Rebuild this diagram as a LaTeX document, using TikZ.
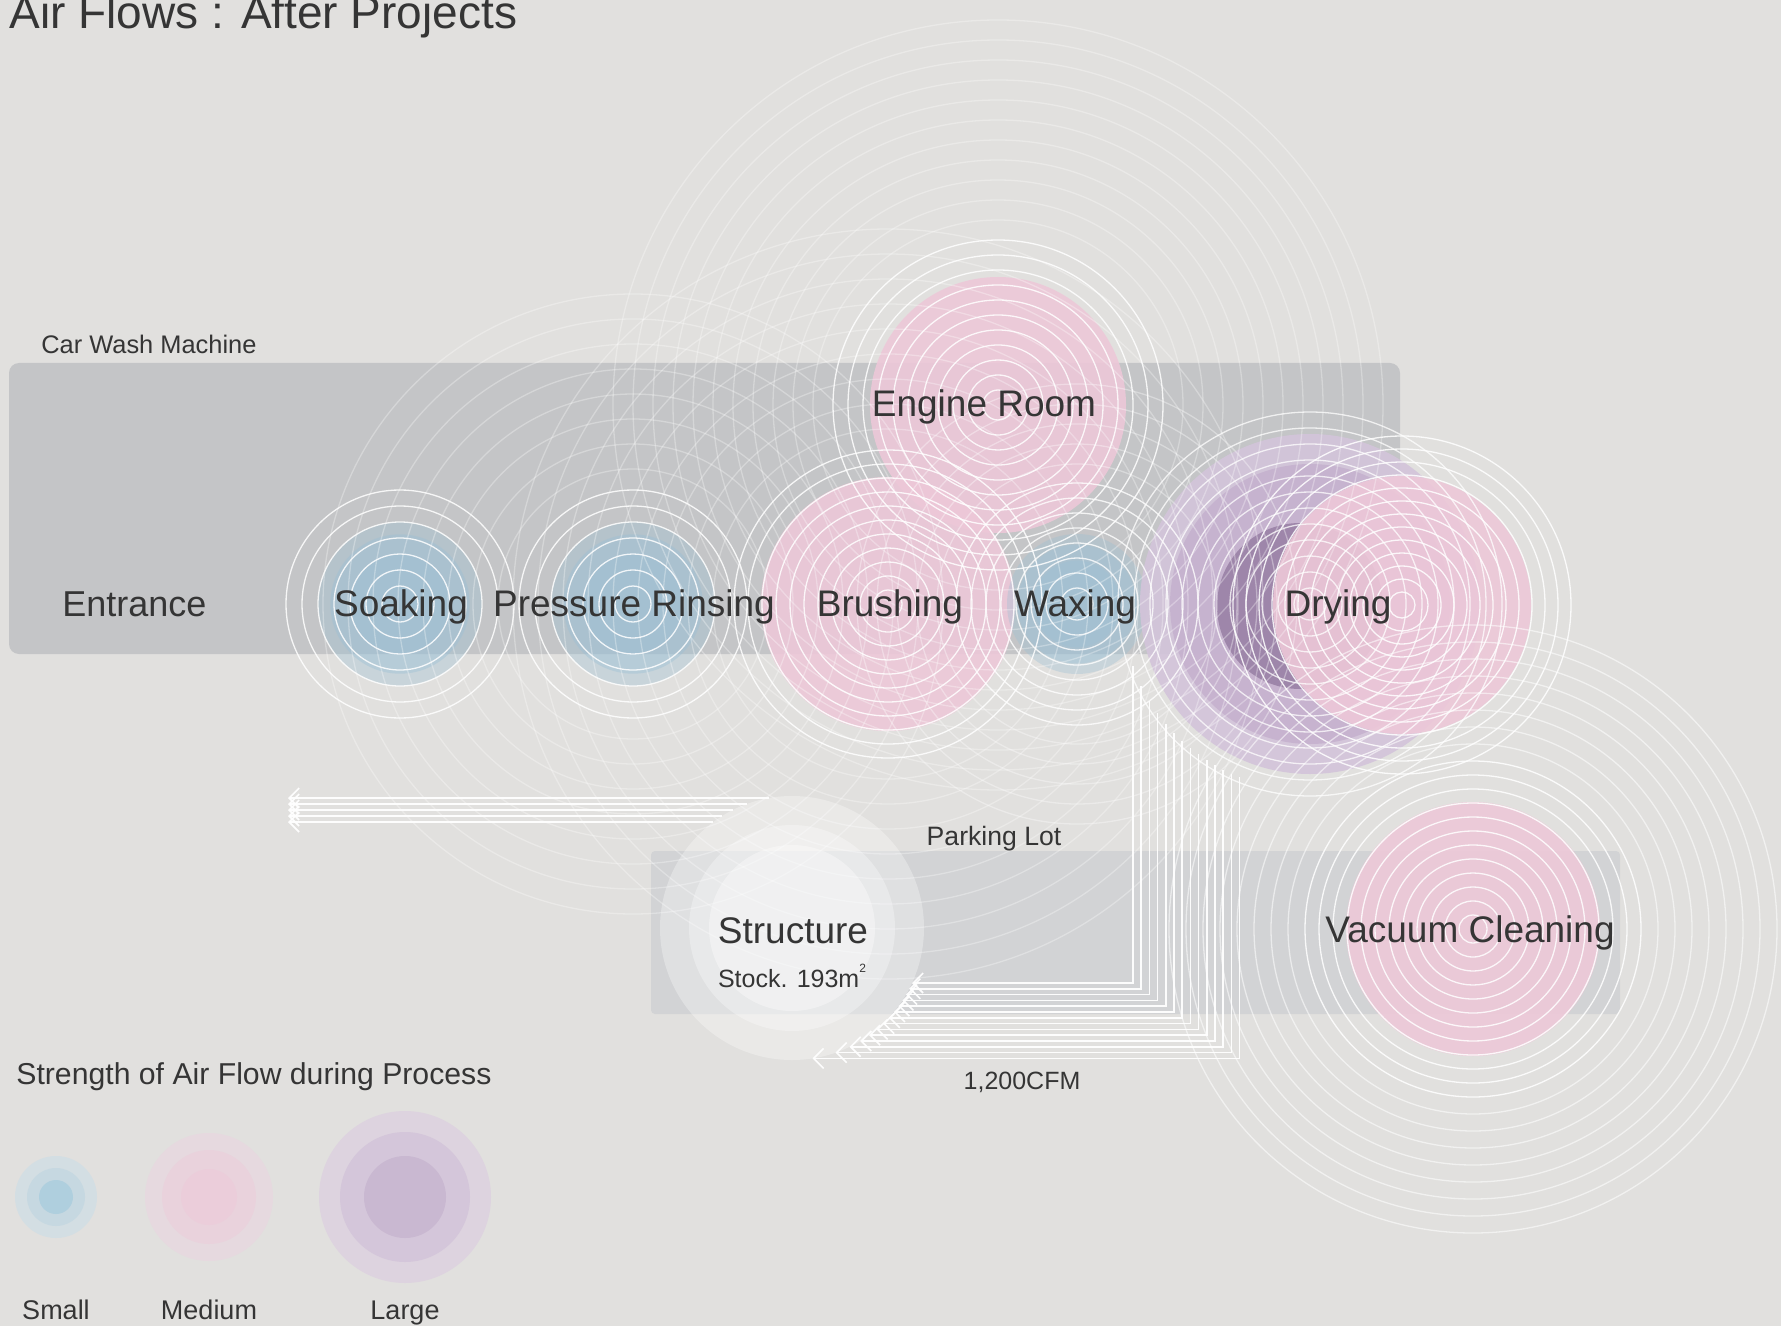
\documentclass[tikz,border=0pt]{standalone}
\usepackage{fontspec}
\setmainfont{Liberation Sans}
\usetikzlibrary{arrows.meta,calc}
\definecolor{bgc}{HTML}{E1E0DE}
\definecolor{barA}{HTML}{C4C5C7}
\definecolor{barB}{HTML}{D2D3D5}
\definecolor{txt}{HTML}{353535}
\definecolor{blueF}{HTML}{9BC0D5}
\definecolor{pinkF}{HTML}{EDC8D8}
\definecolor{purA}{HTML}{D3C4DA}
\definecolor{purB}{HTML}{C4AFCD}
\definecolor{purC}{HTML}{9A82A6}
\definecolor{legSa}{HTML}{D3DEE3}
\definecolor{legSb}{HTML}{C6D8E1}
\definecolor{legSc}{HTML}{AFCFDE}
\definecolor{legMa}{HTML}{E6D9DF}
\definecolor{legMb}{HTML}{E9D2DC}
\definecolor{legMc}{HTML}{EBCDDA}
\definecolor{legLa}{HTML}{DDD3DF}
\definecolor{legLb}{HTML}{D4C6DA}
\definecolor{legLc}{HTML}{C9B8D1}
\newcommand\fsz[1]{\fontsize{#1}{#1}\selectfont}
\newcommand\ringset[5]{\foreach \rr in {#2,#3,...,#4}{\draw[ring,draw opacity=#5] #1 circle[radius=\rr];}}
\newcommand\softdisc[3]{%
  \fill[#3, fill opacity=.35] #1 circle[radius=#2];
  \fill[#3, fill opacity=.4] #1 circle[radius=#2*0.85];
  \fill[#3, fill opacity=.4] #1 circle[radius=#2*0.62];}
\begin{document}
\begin{tikzpicture}[x=0.5pt,y=-0.5pt,
  lbl/.style={text=txt, inner sep=0, anchor=base},
  ring/.style={draw=white, line width=0.65pt},
  flow/.style={draw=white, line width=0.8pt, draw opacity=.95},
  >={Straight Barb[length=5pt,width=10pt]}]
\useasboundingbox (0,0) rectangle (1781,1326);
\fill[bgc] (0,0) rectangle (1781,1326);
% bars
\fill[barA, rounded corners=5pt] (9,363) rectangle (1400,654);
\fill[barB, rounded corners=2pt] (651,851) rectangle (1620,1014);
% centres
\coordinate (soakC) at (400,604);
\coordinate (presC) at (633,604);
\coordinate (brushC) at (888,604);
\coordinate (waxC) at (1077,604);
\coordinate (engC) at (998,405);
\coordinate (dryP) at (1310,604);
\coordinate (dryD) at (1300,606);
\coordinate (dryK) at (1402,605);
\coordinate (vacC) at (1473,929);
% fills
\fill[pinkF, fill opacity=.9] (engC) circle[radius=128];
\fill[pinkF, fill opacity=.9] (brushC) circle[radius=127];
\softdisc{(soakC)}{82}{blueF}
\softdisc{(presC)}{82}{blueF}
\softdisc{(waxC)}{70}{blueF}
\fill[purA, fill opacity=.9] (dryP) circle[radius=170];
\fill[purB, fill opacity=.8] (dryP) circle[radius=140];
\fill[purC, fill opacity=.9] (dryD) circle[radius=83];
\fill[pinkF, fill opacity=.9] (dryK) circle[radius=129];
\fill[pinkF, fill opacity=.9] (vacC) circle[radius=127];
% rings
\ringset{(soakC)}{18}{34}{114}{.85}
\ringset{(presC)}{18}{34}{114}{.85}
\ringset{(presC)}{135}{160}{310}{.3}
\ringset{(brushC)}{14}{28}{154}{.85}
\ringset{(brushC)}{175}{200}{375}{.3}
\ringset{(waxC)}{16}{31}{121}{.8}
\ringset{(waxC)}{140}{160}{220}{.35}
\ringset{(engC)}{15}{30}{165}{.85}
\ringset{(engC)}{185}{205}{395}{.3}
\ringset{(dryP)}{16}{32}{192}{.75}
\ringset{(dryK)}{13}{26}{169}{.85}
\ringset{(vacC)}{14}{28}{168}{.85}
\ringset{(vacC)}{185}{202}{304}{.55}
% structure
\node[circle, minimum size=132pt, inner sep=0, outer sep=0, fill=white, fill opacity=.3] (structure) at (792,928) {};
\fill[white, fill opacity=.3] (structure.center) circle[radius=103];
\fill[white, fill opacity=.35] (structure.center) circle[radius=83];
% flows
\coordinate (leftend) at (288,810);
\foreach \yy in {798,804,810,816,822}{
  \pgfmathsetmacro\ang{180-asin((928-\yy)/132)}
  \draw[flow,->] let \p1=([shift={(\ang:66pt)}]structure.center), \p2=(leftend) in (\p1) -- (\x2,\y1);
}
\foreach \i in {0,...,13}{
  \pgfmathsetmacro\xx{1133+8.2*\i}
  \pgfmathsetmacro\ytop{603+100*sqrt(1.88^2-((1310-\xx)/100)^2)}
  \pgfmathsetmacro\yy{983+5.8*\i}
  \pgfmathsetmacro\ang{-asin((\yy-928)/132)}
  \draw[flow,<-] ([shift={(\ang:66pt)}]structure.center) -| (\xx,\ytop);
}
% legend
\fill[legSa] (56,1197) circle[radius=41];
\fill[legSb] (56,1197) circle[radius=29];
\fill[legSc] (56,1197) circle[radius=17];
\fill[legMa] (209,1197) circle[radius=64];
\fill[legMb] (209,1197) circle[radius=47];
\fill[legMc] (209,1197) circle[radius=28];
\fill[legLa] (405,1197) circle[radius=86];
\fill[legLb] (405,1197) circle[radius=65];
\fill[legLc] (405,1197) circle[radius=41];
% texts
\node[lbl, anchor=base west, font={\fsz{23}}] (title) at (9,29) {Air Flows : After Projects};
\node[lbl, anchor=base west, font={\fsz{12.7}}] (cwm) at (41,354) {Car Wash Machine};
\node[lbl, anchor=base west, font={\fsz{18}}] (entrance) at (62,616) {Entrance};
\node[lbl, font={\fsz{18.5}}] (soaking) at (401,616) {Soaking};
\node[lbl, font={\fsz{18.5}}] (rinsing) at (634,616) {Pressure Rinsing};
\node[lbl, font={\fsz{18.5}}] (brushing) at (890,616) {Brushing};
\node[lbl, font={\fsz{18.5}}] (waxing) at (1075,616) {Waxing};
\node[lbl, font={\fsz{18.5}}] (drying) at (1338,616) {Drying};
\node[lbl, font={\fsz{18.5}}] (engine) at (984,416) {Engine Room};
\node[lbl, font={\fsz{13.3}}] (parking) at (994,845) {Parking Lot};
\node[lbl, font={\fsz{18.5}}] (structtxt) at (793,943) {Structure};
\node[lbl, font={\fsz{12.5}}] (stock) at (792,987) {Stock. 193m\raisebox{1.1ex}{\fsz{6}2}};
\node[lbl, font={\fsz{18.5}}] (vacuum) at (1470,942) {Vacuum Cleaning};
\node[lbl, font={\fsz{12.5}}] (cfm) at (1022,1089) {1,200CFM};
\node[lbl, anchor=base west, font={\fsz{15.1}}] (strength) at (16,1084) {Strength of Air Flow during Process};
\node[lbl, font={\fsz{13.5}}] (small) at (56,1319) {Small};
\node[lbl, font={\fsz{13.5}}] (medium) at (209,1319) {Medium};
\node[lbl, font={\fsz{13.5}}] (large) at (405,1319) {Large};
\end{tikzpicture}
\end{document}
